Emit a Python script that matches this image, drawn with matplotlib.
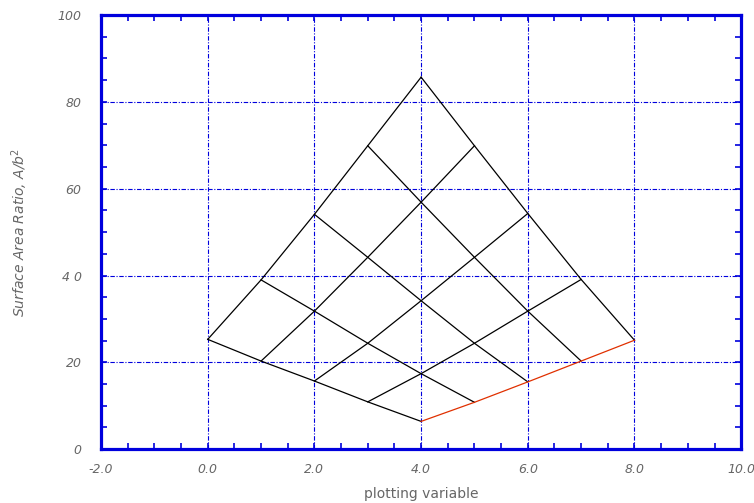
import matplotlib
matplotlib.use("Agg")
import matplotlib.pyplot as plt
from matplotlib.ticker import MultipleLocator

# Carpet-Parameter (Zeilen a, Spalten b), x-Versatz = a + b
a_werte = [0, 1, 2, 3, 4]
b_werte = [0, 1, 2, 3, 4]

# Flaechenverhaeltnis y[a][b]
y_a0 = [25.3, 20.3, 15.7, 10.9, 6.4]
y_a1 = [39.0, 31.8, 24.4, 17.4, 10.8]
y_a2 = [54.1, 44.2, 34.2, 24.4, 15.5]
y_a3 = [69.9, 56.9, 44.2, 31.8, 20.3]
y_a4 = [85.7, 69.9, 54.3, 39.1, 25.1]
y_tab = [y_a0, y_a1, y_a2, y_a3, y_a4]

x_ticks = [-2, 0, 2, 4, 6, 8, 10]
x_labels = ["-2.0", "0.0", "2.0", "4.0", "6.0", "8.0", "10.0"]
y_ticks = [0, 20, 40, 60, 80, 100]
y_labels = ["0", "20", "4 0", "60", "80", "100"]

blau = "#0000dd"
grau = "#666666"

fig = plt.figure(figsize=(7.54, 5.03), dpi=100)
ax = fig.add_axes([0.134, 0.107, 0.849, 0.863])

# Linien mit konstantem a
for i, a in enumerate(a_werte):
    xs = [a + b for b in b_werte]
    ax.plot(xs, y_tab[i], color="black", lw=0.9, zorder=3)

# Linien mit konstantem b
for j, b in enumerate(b_werte):
    xs = [a + b for a in a_werte]
    ys = [y_tab[i][j] for i in range(len(a_werte))]
    farbe = "#e03000" if j == len(b_werte) - 1 else "black"
    ax.plot(xs, ys, color=farbe, lw=0.9, zorder=4)

ax.set_xlim(-2, 10)
ax.set_ylim(0, 100)
ax.set_xticks(x_ticks)
ax.set_xticklabels(x_labels)
ax.set_yticks(y_ticks)
ax.set_yticklabels(y_labels)
ax.xaxis.set_minor_locator(MultipleLocator(0.5))
ax.yaxis.set_minor_locator(MultipleLocator(5))

ax.grid(True, which="major", color=blau, lw=0.8, linestyle=(0, (4, 1.5, 1, 1.5)))

for s in ax.spines.values():
    s.set_color(blau)
    s.set_linewidth(2.3)

ax.tick_params(which="both", direction="in", top=True, right=True, color=blau,
               width=1.2, length=4.5, labelcolor=grau, labelsize=9)
ax.tick_params(axis="x", pad=10)
ax.tick_params(axis="y", pad=14)
for lab in ax.get_xticklabels() + ax.get_yticklabels():
    lab.set_fontstyle("italic")

ax.set_xlabel("plotting variable", color=grau, fontsize=10, labelpad=8)
ax.set_ylabel("Surface Area Ratio, A/b$^2$", color=grau, fontsize=10,
              fontstyle="italic", labelpad=20)

fig.savefig("out.png", dpi=100)
